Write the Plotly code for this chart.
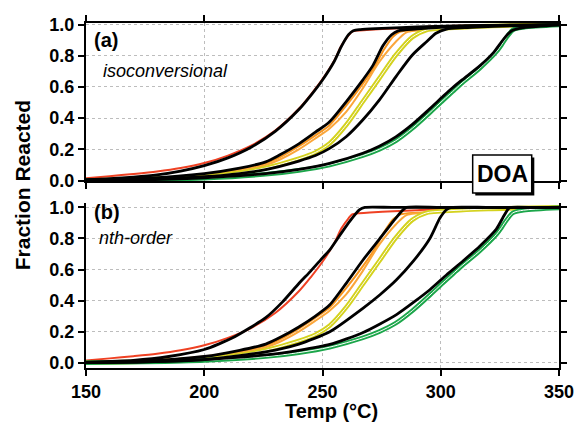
import plotly.graph_objects as go

# ---------------- data ----------------
red_T = [150,160,170,180,190,200,210,220,230,240,245,250,255,258,261,262.5,265,270,280,290,300,320,350]
red_F = [0.015,0.028,0.042,0.058,0.08,0.112,0.16,0.225,0.32,0.46,0.55,0.65,0.77,0.865,0.93,0.955,0.962,0.967,0.975,0.982,0.99,0.996,1.0]

orange1_T = [150,175,200,215,226,232,240,247,253,260,267,272,276,280,283,290,300,320,350]
orange1_F = [0.002,0.012,0.04,0.072,0.11,0.15,0.22,0.29,0.355,0.48,0.62,0.73,0.84,0.925,0.955,0.966,0.976,0.99,1.0]

orange2_T = [150,175,200,215,226,232,240,247,253,260,267,274,281,285.5,290,300,320,350]
orange2_F = [0.002,0.01,0.035,0.065,0.1,0.135,0.2,0.27,0.334,0.44,0.59,0.76,0.89,0.95,0.962,0.972,0.99,1.0]

yellow_T = [150,175,200,215,226,240,247,253,260,267,274,281,288,294,300,320,350]
yellow_F = [0.001,0.008,0.025,0.05,0.08,0.14,0.18,0.238,0.356,0.505,0.655,0.805,0.92,0.965,0.975,0.99,1.0]

green_T = [150,175,200,226,240,253,267,274,281,288,295,301,305,309,316.5,323.5,325.7,327,330.5,335,350]
green_F = [0.0,0.005,0.015,0.04,0.065,0.1,0.16,0.2,0.255,0.335,0.43,0.515,0.57,0.625,0.72,0.825,0.87,0.9,0.965,0.982,0.997]

# isoconversional fits (panel a)
iso1_T = [150,160,170,180,190,200,210,220,230,240,245,250,255,258,261,263,266,275,290,310,350]
iso1_F = [0.005,0.012,0.022,0.036,0.06,0.095,0.145,0.215,0.315,0.455,0.545,0.645,0.765,0.86,0.935,0.96,0.968,0.975,0.985,0.993,1.0]
iso2_T = [150,175,200,215,226,232,240,247,253,260,267,271.4,275.6,279.2,282,290,300,320,350]
iso2_F = [0.003,0.015,0.045,0.08,0.12,0.165,0.235,0.31,0.377,0.505,0.644,0.74,0.865,0.935,0.96,0.972,0.982,0.993,1.0]
iso3_T = [150,175,200,215,226,240,247,253,260,267,274,281,288,294,298,302.4,310,330,350]
iso3_F = [0.002,0.008,0.025,0.045,0.07,0.125,0.16,0.206,0.281,0.388,0.516,0.665,0.805,0.89,0.944,0.971,0.98,0.992,1.0]
iso4_T = [150,175,200,226,240,253,267,274,281,288,295,301,305,309,316.5,322,325,327,330,335,350]
iso4_F = [0.001,0.006,0.018,0.045,0.072,0.11,0.175,0.22,0.28,0.36,0.455,0.54,0.595,0.645,0.735,0.815,0.875,0.915,0.96,0.98,0.997]

# nth-order fits (panel b)
nth1_T = [150,170,185,200,212,226,233,240,245,250,253,257.3,261.5,265.7,267.9,280,350]
nth1_F = [0.003,0.015,0.04,0.085,0.16,0.29,0.39,0.51,0.59,0.675,0.725,0.82,0.91,0.985,1.0,1.0,1.0]
nth2_T = [150,175,200,215,226,233,240,247,253.1,260.1,267.2,274.3,279.9,283.4,285.5,300,350]
nth2_F = [0.002,0.01,0.04,0.08,0.12,0.17,0.23,0.3,0.373,0.513,0.663,0.80,0.91,0.974,1.0,1.0,1.0]
nth3_T = [150,175,200,226,240,253.1,267.2,274.3,281.3,288.3,295.4,299.6,302.4,304.6,320,350]
nth3_F = [0.001,0.005,0.02,0.07,0.12,0.2,0.352,0.438,0.534,0.652,0.80,0.93,0.985,1.0,1.0,1.0]
nth4_T = [150,175,200,226,240,253.1,267.2,281.3,295.4,302.4,309.4,316.5,323.5,326.3,328.5,329.5,340,350]
nth4_F = [0.0,0.005,0.02,0.05,0.08,0.118,0.195,0.31,0.47,0.565,0.655,0.75,0.86,0.935,0.99,1.0,1.0,1.0]

x_ticks = [150, 200, 250, 300, 350]
y_ticks = [0.0, 0.2, 0.4, 0.6, 0.8, 1.0]

# ---------------- styles ----------------
RED = "#EF4123"
ORANGE1 = "#F7941D"
ORANGE2 = "#FBA63A"
YELLOW = "#D4D21E"
GREEN = "#1BA64A"
FONT = "Liberation Sans, Arial, sans-serif"

fig = go.Figure()

def add_line(x, y, color, width, xa, ya, smoothing=0.8):
    fig.add_trace(go.Scatter(x=x, y=y, mode="lines", xaxis=xa, yaxis=ya,
                             line=dict(color=color, width=width, shape="spline", smoothing=smoothing),
                             hoverinfo="skip", showlegend=False))

def add_double(x, y, color, xa, ya):
    add_line(x, y, color, 4.6, xa, ya)
    add_line(x, y, "white", 1.0, xa, ya)

for xa, ya in (("x", "y"), ("x2", "y2")):
    add_line(red_T, red_F, RED, 2, xa, ya)
    add_line(orange1_T, orange1_F, ORANGE1, 2, xa, ya)
    add_line(orange2_T, orange2_F, ORANGE2, 2, xa, ya)
    add_double(yellow_T, yellow_F, YELLOW, xa, ya)
    add_double(green_T, green_F, GREEN, xa, ya)

for T, F in ((iso1_T, iso1_F), (iso2_T, iso2_F), (iso3_T, iso3_F), (iso4_T, iso4_F)):
    add_line(T, F, "black", 2.8, "x", "y")
for T, F in ((nth1_T, nth1_F), (nth2_T, nth2_F), (nth3_T, nth3_F), (nth4_T, nth4_F)):
    add_line(T, F, "black", 2.8, "x2", "y2", smoothing=0.6)

axis_common = dict(showline=True, linecolor="black", linewidth=2,
                   ticks="outside", ticklen=6, tickwidth=2, tickcolor="black",
                   showgrid=True, gridcolor="#bdbdbd", gridwidth=1, griddash="dot",
                   zeroline=False, automargin=False,
                   tickfont=dict(family=FONT, size=18, color="black", weight="bold"))

fig.update_layout(
    width=575, height=431,
    margin=dict(l=86, r=16, t=23, b=63, autoexpand=False),
    paper_bgcolor="white", plot_bgcolor="white",
    xaxis=dict(axis_common, domain=[0, 1], range=[150, 350], tickvals=x_ticks,
               showticklabels=False, mirror="ticks", anchor="y"),
    yaxis=dict(axis_common, domain=[0.542, 1.0], range=[-0.003, 1.01], tickvals=y_ticks,
               tickformat=".1f", mirror="ticks", anchor="x"),
    xaxis2=dict(axis_common, domain=[0, 1], range=[150, 350], tickvals=x_ticks,
                mirror=False, anchor="y2"),
    yaxis2=dict(axis_common, domain=[0, 0.479], range=[-0.034, 1.03], tickvals=y_ticks,
                tickformat=".1f", mirror="ticks", anchor="x2"),
)

# DOA box with shadow (paper coordinates)
bx0, bx1, by0, by1 = 0.8175, 0.9423, 0.5072, 0.6174
dx, dy = 0.0055, 0.0075
fig.add_shape(type="rect", xref="paper", yref="paper", x0=bx0 + dx, x1=bx1 + dx, y0=by0 - dy, y1=by1 - dy,
              fillcolor="black", line=dict(width=0), layer="above")
fig.add_shape(type="rect", xref="paper", yref="paper", x0=bx0, x1=bx1, y0=by0, y1=by1,
              fillcolor="white", line=dict(color="black", width=1.5), layer="above")

ann = [
    dict(text="DOA", x=(bx0 + bx1) / 2, y=(by0 + by1) / 2, font=dict(size=23, weight="bold")),
    dict(text="(a)", x=0.013, y=0.95, xanchor="left", font=dict(size=20, weight="bold")),
    dict(text="<i>isoconversional</i>", x=0.031, y=0.862, xanchor="left", font=dict(size=18)),
    dict(text="(b)", x=0.013, y=0.453, xanchor="left", font=dict(size=20, weight="bold")),
    dict(text="<i>nth-order</i>", x=0.023, y=0.377, xanchor="left", font=dict(size=18)),
    dict(text="Fraction Reacted", x=-0.135, y=0.53, textangle=-90, font=dict(size=21, weight="bold")),
    dict(text="Temp (°C)", x=0.518, y=-0.125, font=dict(size=20, weight="bold")),
]
for a in ann:
    a.setdefault("xanchor", "center")
    a.update(xref="paper", yref="paper", showarrow=False, yanchor="middle")
    a["font"] = dict(family=FONT, color="black", **a["font"])
    fig.add_annotation(**a)

fig.write_html("out.html")
